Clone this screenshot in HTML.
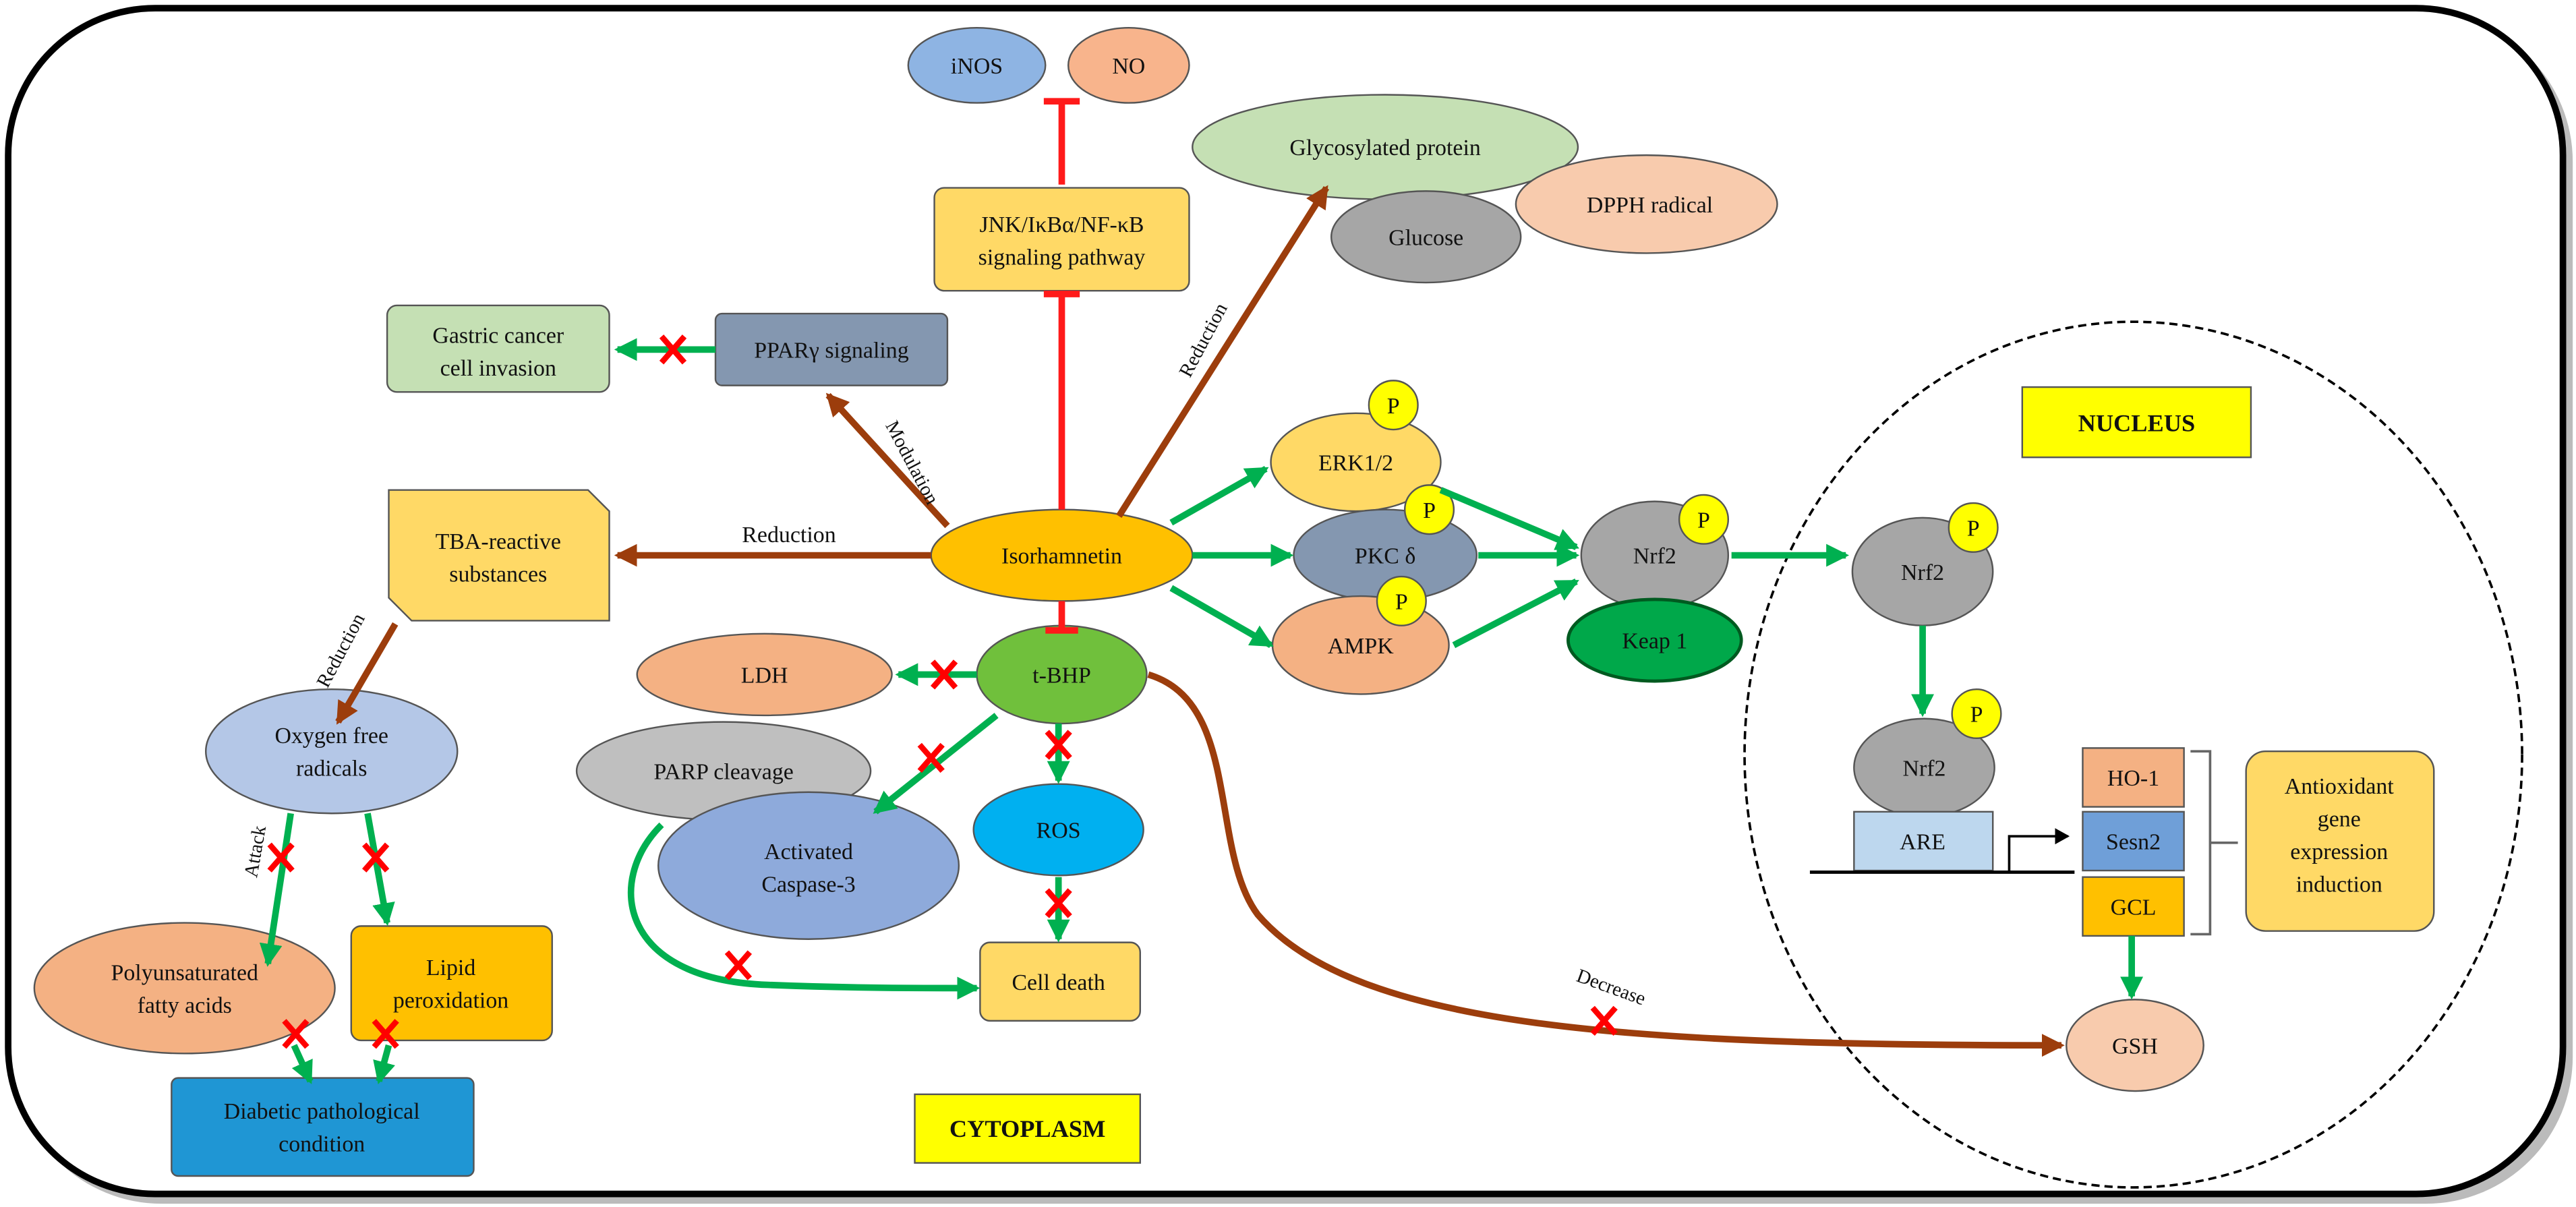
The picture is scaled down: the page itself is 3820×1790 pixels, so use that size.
<!DOCTYPE html>
<html><head><meta charset="utf-8"><style>
html,body{margin:0;padding:0;background:#fff}
svg{display:block}
text{font-family:"Liberation Serif",serif;font-size:14px;fill:#111;text-anchor:middle}
</style></head><body>
<svg width="3820" height="1790" viewBox="0 0 1577 739" preserveAspectRatio="none" xmlns="http://www.w3.org/2000/svg">
<defs>
<marker id="g" markerUnits="userSpaceOnUse" markerWidth="16" markerHeight="16" refX="12" refY="8" orient="auto"><path d="M0,1 L14,8 L0,15 Z" fill="#00b050"/></marker>
<marker id="b" markerUnits="userSpaceOnUse" markerWidth="16" markerHeight="16" refX="12" refY="8" orient="auto"><path d="M0,1 L14,8 L0,15 Z" fill="#9c3d0c"/></marker>
<marker id="k" markerUnits="userSpaceOnUse" markerWidth="10" markerHeight="10" refX="8" refY="5" orient="auto"><path d="M0,0 L9,5 L0,10 Z" fill="#000"/></marker>
</defs>
<rect x="0" y="0" width="1577" height="739" fill="#fff"/>
<rect x="9" y="9" width="1566" height="728" rx="90" fill="#bbb"/>
<rect x="5" y="5" width="1564" height="726" rx="90" fill="#fff" stroke="#000" stroke-width="4"/>

<!-- nucleus -->
<ellipse cx="1306" cy="462" rx="238" ry="265" fill="none" stroke="#000" stroke-width="1.5" stroke-dasharray="5,3"/>

<g stroke="#555" stroke-width="1">
<!-- top -->
<ellipse cx="598" cy="40" rx="42" ry="23" fill="#8eb4e3"/>
<ellipse cx="691" cy="40" rx="37" ry="23" fill="#f8b48c"/>
<rect x="572" y="115" width="156" height="63" rx="6" fill="#ffd966"/>
<ellipse cx="848" cy="90" rx="118" ry="32" fill="#c5e0b4"/>
<ellipse cx="1008" cy="125" rx="80" ry="30" fill="#f8cbad"/>
<ellipse cx="873" cy="145" rx="58" ry="28" fill="#a6a6a6"/>
<rect x="237" y="187" width="136" height="53" rx="6" fill="#c5e0b4"/>
<rect x="438" y="192" width="142" height="44" rx="4" fill="#8497b0"/>
<path d="M238,300 H360 L373,313 V380 H252 L238,366 Z" fill="#ffd966"/>
<ellipse cx="650" cy="340" rx="80" ry="28" fill="#ffc000"/>
<ellipse cx="203" cy="460" rx="77" ry="38" fill="#b4c7e7"/>
<ellipse cx="113" cy="605" rx="92" ry="40" fill="#f4b183"/>
<rect x="215" y="567" width="123" height="70" rx="6" fill="#ffc000"/>
<rect x="105" y="660" width="185" height="60" rx="4" fill="#1f96d4"/>
<ellipse cx="650" cy="413" rx="52" ry="30" fill="#70c03c"/>
<ellipse cx="468" cy="413" rx="78" ry="25" fill="#f4b183"/>
<ellipse cx="443" cy="472" rx="90" ry="30" fill="#bfbfbf"/>
<ellipse cx="495" cy="530" rx="92" ry="45" fill="#8eaadb"/>
<ellipse cx="648" cy="508" rx="52" ry="28" fill="#00b0f0"/>
<rect x="600" y="577" width="98" height="48" rx="6" fill="#ffd966"/>
<ellipse cx="830" cy="283" rx="52" ry="30" fill="#ffd966"/>
<ellipse cx="848" cy="340" rx="56" ry="28" fill="#8497b0"/>
<ellipse cx="833" cy="395" rx="54" ry="30" fill="#f4b183"/>
<ellipse cx="1013" cy="340" rx="45" ry="33" fill="#a6a6a6"/>
<ellipse cx="1013" cy="392" rx="53" ry="25" fill="#00a84a" stroke="#005a20" stroke-width="2"/>
<ellipse cx="1177" cy="350" rx="43" ry="33" fill="#a6a6a6"/>
<ellipse cx="1178" cy="470" rx="43" ry="30" fill="#a6a6a6"/>
<rect x="1135" y="497" width="85" height="36" fill="#bdd7ee"/>
<rect x="1275" y="458" width="62" height="36" fill="#f4b183"/>
<rect x="1275" y="497" width="62" height="36" fill="#6f9fd8"/>
<rect x="1275" y="537" width="62" height="36" fill="#ffc000"/>
<rect x="1375" y="460" width="115" height="110" rx="12" fill="#ffd966"/>
<ellipse cx="1307" cy="640" rx="42" ry="28" fill="#f8cbad"/>
<rect x="1238" y="237" width="140" height="43" fill="#ffff00"/>
<rect x="560" y="670" width="138" height="42" fill="#ffff00"/>
<!-- P circles -->
<circle cx="853" cy="248" r="15" fill="#ffff00"/>
<circle cx="875" cy="312" r="15" fill="#ffff00"/>
<circle cx="858" cy="368" r="15" fill="#ffff00"/>
<circle cx="1043" cy="318" r="15" fill="#ffff00"/>
<circle cx="1208" cy="323" r="15" fill="#ffff00"/>
<circle cx="1210" cy="437" r="15" fill="#ffff00"/>
</g>

<!-- red inhibition -->
<g stroke="#ff1a1a" stroke-width="4" fill="none">
<path d="M650,312 V182 M639,180 H661"/>
<path d="M650,113 V64 M639,62 H661"/>
<path d="M650,368 V384 M640,386 H660"/>
</g>

<!-- brown arrows -->
<g stroke="#9c3d0c" stroke-width="4" fill="none" marker-end="url(#b)">
<path d="M685,316 L812,115"/>
<path d="M580,322 L507,242"/>
<path d="M570,340 L378,340"/>
<path d="M242,382 L207,442"/>
<path d="M703,413 C760,430 740,520 770,560 C830,630 1000,640 1262,640"/>
</g>

<!-- green arrows -->
<g stroke="#00b050" stroke-width="4" fill="none" marker-end="url(#g)">
<path d="M438,214 L378,214"/>
<path d="M178,498 L164,590"/>
<path d="M225,498 L237,565"/>
<path d="M180,640 L190,662"/>
<path d="M238,640 L232,662"/>
<path d="M598,413 L550,413"/>
<path d="M610,438 L536,497"/>
<path d="M648,443 L648,478"/>
<path d="M648,537 L648,575"/>
<path d="M405,505 C370,540 380,600 470,603 C520,605 560,605 598,605"/>
<path d="M717,320 L775,287"/>
<path d="M730,340 L790,340"/>
<path d="M717,360 L778,395"/>
<path d="M882,300 L965,335"/>
<path d="M905,340 L965,340"/>
<path d="M890,395 L965,356"/>
<path d="M1060,340 L1130,340"/>
<path d="M1177,383 L1177,437"/>
<path d="M1305,573 L1305,610"/>
</g>

<!-- ARE line & bracket -->
<g stroke="#000" stroke-width="2" fill="none">
<path d="M1108,534 H1270"/>
<path d="M1230,533 V512 H1266" stroke-width="1.5" marker-end="url(#k)"/>
<path d="M1341,460 H1353 V572 H1341 M1353,516 H1370" stroke="#666" stroke-width="1.5"/>
</g>

<!-- red X marks -->
<g stroke="#ff0000" stroke-width="3.5">
<path d="M405,206 l14,16 M419,206 l-14,16"/>
<path d="M165,517 l14,16 M179,517 l-14,16"/>
<path d="M223,517 l14,16 M237,517 l-14,16"/>
<path d="M174,625 l14,16 M188,625 l-14,16"/>
<path d="M229,625 l14,16 M243,625 l-14,16"/>
<path d="M571,405 l14,16 M585,405 l-14,16"/>
<path d="M563,456 l14,16 M577,456 l-14,16"/>
<path d="M641,448 l14,16 M655,448 l-14,16"/>
<path d="M641,545 l14,16 M655,545 l-14,16"/>
<path d="M445,583 l14,16 M459,583 l-14,16"/>
<path d="M975,617 l14,16 M989,617 l-14,16"/>
</g>

<!-- texts -->
<text x="598" y="45">iNOS</text>
<text x="691" y="45">NO</text>
<text x="650" y="142">JNK/IκBα/NF-κB</text>
<text x="650" y="162">signaling pathway</text>
<text x="848" y="95">Glycosylated protein</text>
<text x="1010" y="130">DPPH radical</text>
<text x="873" y="150">Glucose</text>
<text x="305" y="210">Gastric cancer</text>
<text x="305" y="230">cell invasion</text>
<text x="509" y="219">PPARγ signaling</text>
<text x="305" y="336">TBA-reactive</text>
<text x="305" y="356">substances</text>
<text x="483" y="332">Reduction</text>
<text x="650" y="345">Isorhamnetin</text>
<text x="203" y="455">Oxygen free</text>
<text x="203" y="475">radicals</text>
<text x="113" y="600">Polyunsaturated</text>
<text x="113" y="620">fatty acids</text>
<text x="276" y="597">Lipid</text>
<text x="276" y="617">peroxidation</text>
<text x="197" y="685">Diabetic pathological</text>
<text x="197" y="705">condition</text>
<text x="650" y="418">t-BHP</text>
<text x="468" y="418">LDH</text>
<text x="443" y="477">PARP cleavage</text>
<text x="495" y="526">Activated</text>
<text x="495" y="546">Caspase-3</text>
<text x="648" y="513">ROS</text>
<text x="648" y="606">Cell death</text>
<text x="830" y="288">ERK1/2</text>
<text x="848" y="345">PKC δ</text>
<text x="833" y="400">AMPK</text>
<text x="1013" y="345">Nrf2</text>
<text x="1013" y="397">Keap 1</text>
<text x="1177" y="355">Nrf2</text>
<text x="1178" y="475">Nrf2</text>
<text x="1177" y="520">ARE</text>
<text x="1306" y="481">HO-1</text>
<text x="1306" y="520">Sesn2</text>
<text x="1306" y="560">GCL</text>
<text x="1432" y="486">Antioxidant</text>
<text x="1432" y="506">gene</text>
<text x="1432" y="526">expression</text>
<text x="1432" y="546">induction</text>
<text x="1307" y="645">GSH</text>
<text x="1308" y="264" style="font-weight:bold;font-size:15px">NUCLEUS</text>
<text x="629" y="696" style="font-weight:bold;font-size:15px">CYTOPLASM</text>
<g style="font-size:13px">
<text x="853" y="253">P</text><text x="875" y="317">P</text><text x="858" y="373">P</text>
<text x="1043" y="323">P</text><text x="1208" y="328">P</text><text x="1210" y="442">P</text>
</g>
<text x="0" y="0" transform="translate(740,210) rotate(-62)" style="font-size:12px">Reduction</text>
<text x="0" y="0" transform="translate(555,285) rotate(62)" style="font-size:12px">Modulation</text>
<text x="0" y="0" transform="translate(212,400) rotate(-62)" style="font-size:12px">Reduction</text>
<text x="0" y="0" transform="translate(160,522) rotate(-80)" style="font-size:12px">Attack</text>
<text x="0" y="0" transform="translate(985,608) rotate(20)" style="font-size:12px">Decrease</text>
</svg>
</body></html>
